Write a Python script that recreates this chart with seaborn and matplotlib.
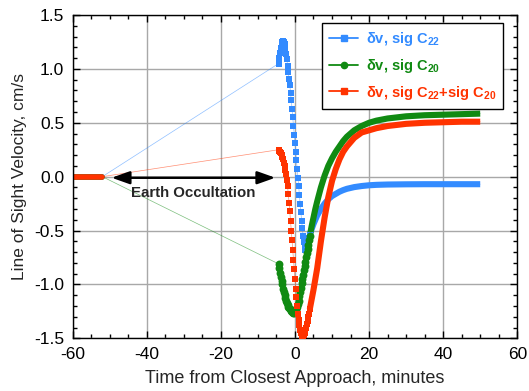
import matplotlib
matplotlib.use('Agg')
import matplotlib.pyplot as plt
from matplotlib.lines import Line2D
from matplotlib.ticker import MultipleLocator
import pandas as pd
import seaborn as sns

# before the occultation (all three series sit on zero)
time_pre = [-60, -56, -52]
vel_pre = [0.0, 0.0, 0.0]

# dense sampling around closest approach, minutes
time_core = [-4.4, -4.2, -4.0, -3.8, -3.6, -3.4, -3.2, -3.0, -2.8, -2.6, -2.4,
             -2.2, -2.0, -1.8, -1.6, -1.4, -1.2, -1.0, -0.8, -0.6, -0.4, -0.2,
             0.0, 0.2, 0.4, 0.6, 0.8, 1.0, 1.2, 1.4, 1.6, 1.8, 2.0, 2.2, 2.4,
             2.6, 2.8, 3.0, 3.2, 3.4, 3.6, 3.8, 4.0]
c22_core = [1.05, 1.10, 1.15, 1.19, 1.23, 1.25, 1.26, 1.25, 1.23, 1.19, 1.14,
            1.09, 1.03, 0.97, 0.91, 0.85, 0.78, 0.71, 0.63, 0.55, 0.47, 0.39,
            0.31, 0.23, 0.15, 0.07, -0.01, -0.09, -0.17, -0.25, -0.33, -0.41, -0.48, -0.55, -0.61,
            -0.65, -0.68, -0.68, -0.66, -0.63, -0.60, -0.57, -0.54]
c20_core = [-0.81, -0.85, -0.89, -0.93, -0.97, -1.00, -1.04, -1.07, -1.10, -1.13, -1.15,
            -1.17, -1.19, -1.21, -1.22, -1.23, -1.24, -1.25, -1.255, -1.26, -1.265, -1.265,
            -1.26, -1.25, -1.23, -1.21, -1.18, -1.15, -1.11, -1.07, -1.03, -0.99, -0.95, -0.91, -0.87,
            -0.83, -0.79, -0.75, -0.71, -0.67, -0.63, -0.59, -0.55]
both_core = [0.25, 0.24, 0.23, 0.22, 0.20, 0.18, 0.16, 0.13, 0.10, 0.06, 0.02,
             -0.03, -0.09, -0.16, -0.24, -0.32, -0.41, -0.50, -0.59, -0.68, -0.77, -0.86,
             -0.95, -1.04, -1.12, -1.20, -1.27, -1.33, -1.38, -1.42, -1.45, -1.47, -1.48, -1.48, -1.47,
             -1.45, -1.43, -1.40, -1.37, -1.34, -1.30, -1.27, -1.23]

# slow tail after closest approach
time_tail = [4.0, 4.5, 5.0, 5.5, 6.0, 7, 8, 9, 10, 11, 12, 13, 14, 16, 18, 20,
             22, 25, 30, 35, 40, 45, 50]
c22_tail = [-0.54, -0.487, -0.44, -0.40, -0.36, -0.30, -0.25, -0.21, -0.18, -0.16,
            -0.14, -0.125, -0.113, -0.097, -0.087, -0.08, -0.076, -0.073, -0.071,
            -0.07, -0.07, -0.07, -0.07]
c20_tail = [-0.55, -0.46, -0.38, -0.30, -0.23, -0.10, 0.01, 0.10, 0.17, 0.23, 0.28,
            0.33, 0.37, 0.43, 0.47, 0.50, 0.52, 0.54, 0.56, 0.57, 0.575, 0.58, 0.585]
both_tail = [-1.23, -1.14, -1.05, -0.95, -0.85, -0.60, -0.38, -0.19, -0.04, 0.07, 0.16,
             0.23, 0.28, 0.36, 0.41, 0.43, 0.45, 0.47, 0.49, 0.50, 0.505, 0.51, 0.51]

labels = [r'δv, sig C$_\mathbf{22}$', r'δv, sig C$_\mathbf{20}$',
          r'δv, sig C$_\mathbf{22}$+sig C$_\mathbf{20}$']
colors = ['#338bff', '#108a12', '#ff3300']
markers = ['s', 'o', 's']

sns.set_style('ticks')
plt.rcParams['font.family'] = ['Liberation Sans', 'DejaVu Sans']
plt.rcParams['mathtext.fontset'] = 'custom'
plt.rcParams['mathtext.rm'] = 'Liberation Sans:bold'
plt.rcParams['mathtext.bf'] = 'Liberation Sans:bold'
plt.rcParams['axes.unicode_minus'] = False

fig = plt.figure(figsize=(5.29, 3.91), dpi=100)
ax = fig.add_axes([0.1374, 0.1348, 0.8404, 0.8268])

series = [(c22_core, c22_tail), (c20_core, c20_tail), (both_core, both_tail)]
for (core, tail), color, marker in zip(series, colors, markers):
    # thin line through everything (bridges the occultation gap)
    full = pd.DataFrame({'t': time_pre + time_core + time_tail[1:],
                         'v': vel_pre + core + tail[1:]})
    sns.lineplot(data=full, x='t', y='v', color=color, lw=0.5, alpha=0.55,
                 estimator=None, ax=ax)
    sns.lineplot(x=time_pre, y=vel_pre, color=color, lw=4, estimator=None, ax=ax)
    sns.scatterplot(x=time_core, y=core, color=color, marker=marker,
                    s=24 if marker == 's' else 32, linewidth=0, ax=ax, zorder=3)
    sns.lineplot(x=time_tail, y=tail, color=color, lw=4.4, estimator=None, ax=ax,
                 solid_capstyle='butt')

ax.annotate('', xy=(-5.3, -0.01), xytext=(-49.5, -0.01),
            arrowprops=dict(arrowstyle='<|-|>,head_length=0.9,head_width=0.32',
                            mutation_scale=12, color='black', lw=1.8, shrinkA=0, shrinkB=0))
ax.text(-27.6, -0.15, 'Earth Occultation', ha='center', va='center',
        fontsize=10.8, fontweight='bold')

ax.set_xlim(-60, 60)
ax.set_ylim(-1.5, 1.5)
ax.xaxis.set_major_locator(MultipleLocator(20))
ax.xaxis.set_minor_locator(MultipleLocator(5))
ax.yaxis.set_major_locator(MultipleLocator(0.5))
ax.yaxis.set_minor_locator(MultipleLocator(0.1))
ax.yaxis.set_major_formatter(matplotlib.ticker.FormatStrFormatter('%.1f'))
ax.tick_params(which='both', direction='in', top=True, right=True, width=1, colors='black',
               labelsize=12.5)
ax.tick_params(which='major', length=5, pad=6)
ax.tick_params(which='minor', length=3)
ax.grid(True, which='major', color='#a8a8a8', lw=1)
ax.set_axisbelow(True)
for s in ax.spines.values():
    s.set_color('black')
    s.set_linewidth(1)

ax.set_xlabel('Time from Closest Approach, minutes', fontsize=13, labelpad=6)
ax.set_ylabel('Line of Sight Velocity, cm/s', fontsize=12.5, labelpad=5)

handles = [Line2D([], [], color=c, marker=m, markersize=4.5, lw=1.3)
           for c, m in zip(colors, markers)]
leg = ax.legend(handles, labels, loc='upper right', bbox_to_anchor=(0.9684, 0.976),
                borderaxespad=0, frameon=True, fancybox=False, framealpha=1,
                edgecolor='black', prop={'weight': 'bold', 'size': 10.5},
                handlelength=2.0, handletextpad=0.5, labelspacing=0.6,
                borderpad=0.5)
leg.get_frame().set_linewidth(1)
for txt, c in zip(leg.get_texts(), colors):
    txt.set_color(c)

fig.savefig('out.png', dpi=100)
